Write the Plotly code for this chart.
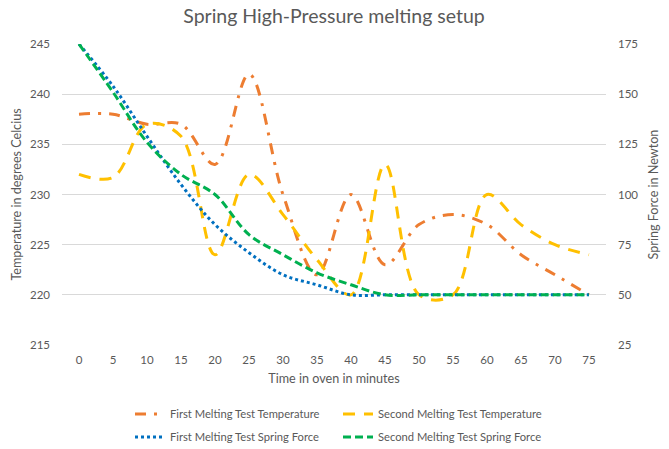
import plotly.graph_objects as go

minutes = [0, 5, 10, 15, 20, 25, 30, 35, 40, 45, 50, 55, 60, 65, 70, 75]
tick_labels = [str(m) for m in minutes]

first_temp = [238, 238, 237, 237, 233, 242, 230, 222, 230, 223, 227, 228, 227, 224, 222, 220]
second_temp = [232, 231.7, 237, 235.8, 224, 232, 228, 223.5, 220, 233, 220, 220, 230, 227, 225, 224]
first_force = [175, 154, 129, 105, 85, 71, 60, 55, 50, 50, 50, 50, 50, 50, 50, 50]
second_force = [175, 151, 126, 110, 100, 80, 70, 61, 55, 50, 50, 50, 50, 50, 50, 50]

names = [
    "First Melting Test Temperature",
    "Second Melting Test Temperature",
    "First Melting Test Spring Force",
    "Second Melting Test Spring Force",
]

TXT = "#595959"
GRID = "#D9D9D9"
FONT = "Lato, Calibri, Carlito, sans-serif"
W, H = 669, 449

fig = go.Figure()
fig.add_trace(go.Scatter(x=minutes, y=first_temp, name=names[0], mode="lines", legend="legend",
                         line=dict(color="#ED7D31", width=3, shape="spline", smoothing=1,
                                   dash="11px,8px,3px,8px")))
fig.add_trace(go.Scatter(x=minutes, y=second_temp, name=names[1], mode="lines", legend="legend2",
                         line=dict(color="#FFC000", width=3, shape="spline", smoothing=1,
                                   dash="12px,9px")))
fig.add_trace(go.Scatter(x=minutes, y=first_force, name=names[2], mode="lines", yaxis="y2",
                         legend="legend3",
                         line=dict(color="#0070C0", width=3, shape="spline", smoothing=1,
                                   dash="3px,3px")))
fig.add_trace(go.Scatter(x=minutes, y=second_force, name=names[3], mode="lines", yaxis="y2",
                         legend="legend4",
                         line=dict(color="#00B050", width=3, shape="spline", smoothing=1,
                                   dash="8px,4px")))


def leg(xpx, ypx):
    return dict(orientation="h", xref="container", yref="container",
                x=xpx / W, xanchor="left", y=1 - ypx / H, yanchor="middle",
                font=dict(size=11.2, color=TXT, family=FONT), bgcolor="rgba(0,0,0,0)")


fig.update_layout(
    width=W, height=H,
    margin=dict(l=62, r=63, t=44, b=104, autoexpand=False),
    paper_bgcolor="white", plot_bgcolor="white",
    font=dict(family=FONT, color=TXT, size=12),
    title=dict(text="Spring High-Pressure melting setup", x=0.5, xref="paper", xanchor="center",
               y=1 - 16 / H, yanchor="middle", font=dict(size=19.5, color=TXT, family=FONT)),
    xaxis=dict(range=[-2.5, 77.5], tickmode="array", tickvals=minutes, ticktext=tick_labels,
               showgrid=False, zeroline=False, showline=False, ticks="", automargin=False,
               ticklabelstandoff=6, tickfont=dict(size=11.5, color=TXT),
               title=dict(text="Time in oven in minutes", font=dict(size=12.6, color=TXT), standoff=9)),
    yaxis=dict(range=[215, 245], dtick=5, tick0=215, showgrid=True, gridcolor=GRID, gridwidth=1,
               zeroline=False, showline=False, ticks="", ticklabelstandoff=11, automargin=False,
               tickfont=dict(size=11.5, color=TXT),
               title=dict(text="Temperature in degrees Celcius", font=dict(size=12.6, color=TXT), standoff=5)),
    yaxis2=dict(range=[25, 175], dtick=25, tick0=25, overlaying="y", side="right", showgrid=False,
                zeroline=False, showline=False, ticks="", ticklabelstandoff=11, automargin=False,
                tickfont=dict(size=11.5, color=TXT),
                title=dict(text="Spring Force in Newton", font=dict(size=12.6, color=TXT), standoff=11)),
    legend=leg(130, 414),
    legend2=leg(338, 414),
    legend3=leg(130, 437),
    legend4=leg(338, 437),
    showlegend=True,
)

fig.write_html("out.html")
